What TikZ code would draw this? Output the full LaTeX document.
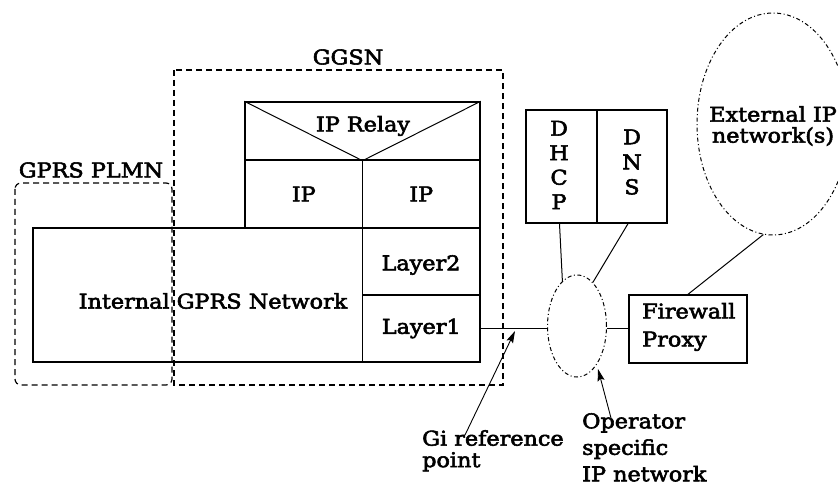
\documentclass[tikz,border=0pt]{standalone}
\usepackage{fontspec}
\setmainfont{DejaVu Serif}[FakeStretch=1.1,FakeBold=2.8]
\usetikzlibrary{shapes.geometric,arrows.meta}
\begin{document}
\begin{tikzpicture}[x=1pt,y=-1pt,
  font=\fontsize{20.3}{25}\selectfont,
  box/.style={draw,line width=1.4pt,inner sep=0pt},
  region/.style={draw,line width=1.2pt,dash pattern=on 6pt off 4pt},
  cloud/.style={ellipse,draw,line width=1pt,inner sep=0pt,
    dash pattern=on 4pt off 2.5pt on 1pt off 2.5pt},
  link/.style={line width=1pt},
  pointer/.style={line width=0.9pt,-{Stealth[length=12pt,width=7pt,inset=2pt]}},
  lbl/.style={inner sep=0pt}]
\useasboundingbox (0,0) rectangle (838,486);
\clip (0,0) rectangle (838,486);

% dashed domain boundaries
\draw[region] (174,70) rectangle (503,385);
\draw[region,rounded corners=6pt] (15,183) rectangle (172,385);
\node[lbl] (ggsnlbl) at (348,57) {GGSN};
\node[lbl] (plmnlbl) at (91,170) {GPRS PLMN};

% GGSN protocol stack
\node[box,minimum width=447pt,minimum height=134pt] (core) at (256.5,295) {};
\node[lbl] (corelbl) at (213,301) {Internal GPRS Network};
\node[box,minimum width=235pt,minimum height=58pt] (relay) at (362.5,131) {};
\draw[line width=1pt] (relay.north west) -- (relay.south) -- (relay.north east);
\node[lbl] (relaylbl) at (363,126) {IP Relay};
\node[box,minimum width=117.5pt,minimum height=68pt] (ipl) at (303.75,194) {IP};
\node[box,minimum width=117.5pt,minimum height=68pt] (ipr) at (421.25,194) {IP};
\node[box,minimum width=117.5pt,minimum height=67pt] (l2) at (421.25,261.5) {};
\node[lbl] (l2lbl) at (421,265) {Layer2};
\node[box,minimum width=117.5pt,minimum height=67pt] (l1) at (421.25,328.5) {Layer1};

% servers
\node[box,minimum width=71pt,minimum height=113pt] (dhcp) at (561.5,166.5) {};
\node[lbl,align=center,font=\fontsize{20.3}{24.5}\selectfont] (dhcplbl) at (559,165) {D\\H\\C\\P};
\node[box,minimum width=70pt,minimum height=113pt] (dns) at (632,166.5) {};
\node[lbl,align=center,font=\fontsize{20.3}{25}\selectfont] (dnslbl) at (632,162) {D\\N\\S};
\node[box,minimum width=118pt,minimum height=68pt] (fw) at (688,329) {};
\node[lbl,align=left,anchor=west,font=\fontsize{20.3}{28}\selectfont] (fwlbl) at (642,327) {Firewall\\Proxy};

% IP networks
\node[cloud,minimum width=59pt,minimum height=102pt] (op) at (577,326) {};
\node[cloud,minimum width=152pt,minimum height=222pt] (ext) at (773,124) {};
\node[lbl,align=center,font=\fontsize{20.3}{21}\selectfont] (extlbl) at (773,126) {External IP\\network(s)};

% connections
\draw[link] (l1.east) -- (l1.east -| op.west);
\draw[link] (fw.west -| op.east) -- (fw.west);
\draw[link] ([xshift=-2pt]dhcp.south) -- (op.108);
\draw[link] ([xshift=-4pt]dns.south) -- (op.70);
\draw[link] (fw.north) -- (ext.265);

% reference annotations
\node[lbl,align=left,anchor=north west,font=\fontsize{20.3}{21.5}\selectfont] (gilbl) at (422,430) {Gi reference\\point};
\coordinate (gipt) at (515,331);
\draw[pointer] ([xshift=43pt,yshift=-5pt]gilbl.north west) -- (gipt);
\node[lbl,align=left,anchor=north west,font=\fontsize{20.3}{26.5}\selectfont] (oplbl) at (582,413) {Operator\\specific\\IP network};
\coordinate (oppt) at (598,369);
\draw[pointer] ([xshift=29pt,yshift=-5pt]oplbl.north west) -- (oppt);
\end{tikzpicture}
\end{document}
